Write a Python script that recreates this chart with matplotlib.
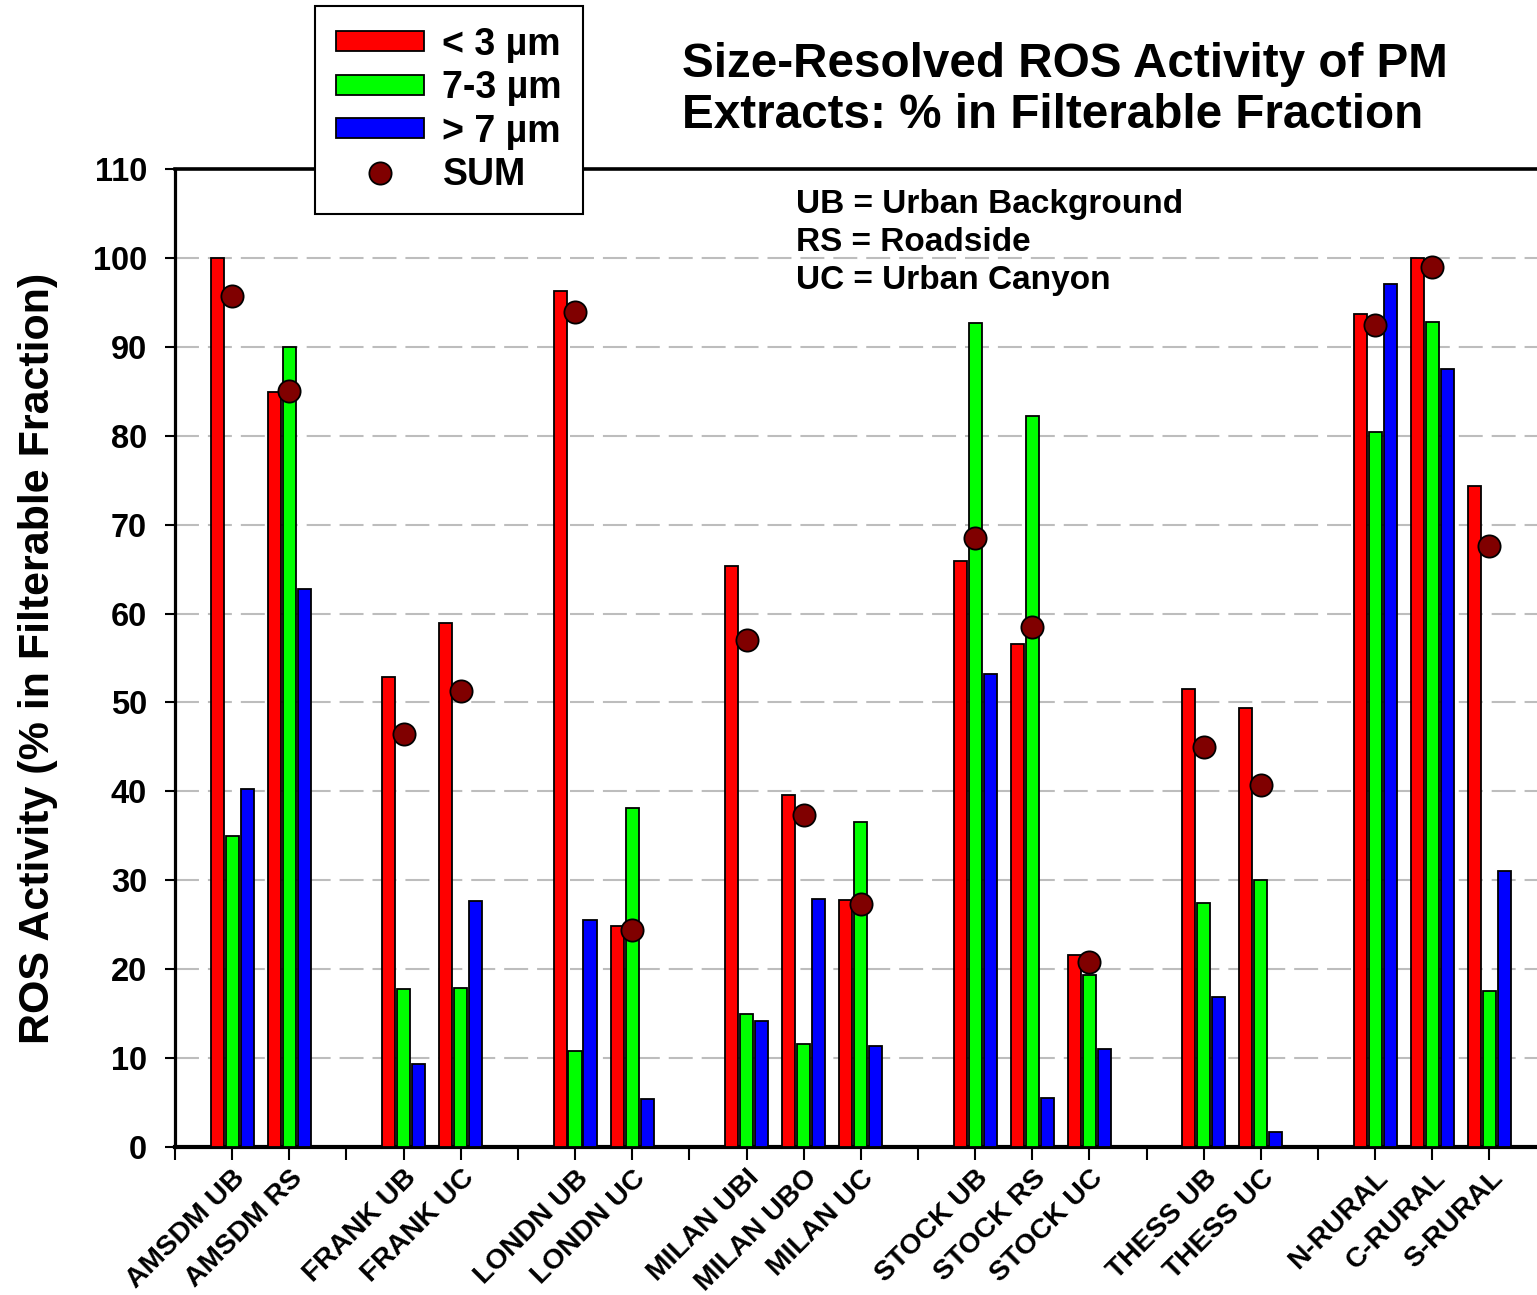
import matplotlib
matplotlib.use('Agg')
import matplotlib.pyplot as plt
from matplotlib.patches import Patch
from matplotlib.lines import Line2D
import numpy as np

plt.rcParams['font.family'] = ['Liberation Sans', 'DejaVu Sans']
plt.rcParams['font.weight'] = 'bold'

# ---- data ----
categories = ['AMSDM UB', 'AMSDM RS', 'FRANK UB', 'FRANK UC', 'LONDN UB', 'LONDN UC',
              'MILAN UBI', 'MILAN UBO', 'MILAN UC', 'STOCK UB', 'STOCK RS', 'STOCK UC',
              'THESS UB', 'THESS UC', 'N-RURAL', 'C-RURAL', 'S-RURAL']
group_sizes = [2, 2, 2, 3, 3, 2, 3]
fine = [100, 84.9, 52.9, 58.9, 96.3, 24.9, 65.4, 39.6, 27.8, 65.9, 56.6, 21.6, 51.5, 49.4, 93.7, 100, 74.4]
mid = [35.0, 90.0, 17.8, 17.9, 10.8, 38.1, 15.0, 11.6, 36.6, 92.7, 82.2, 19.3, 27.4, 30.0, 80.4, 92.8, 17.5]
coarse = [40.3, 62.8, 9.3, 27.7, 25.5, 5.4, 14.2, 27.9, 11.4, 53.2, 5.5, 11.0, 16.9, 1.7, 97.1, 87.5, 31.0]
total = [95.7, 85.0, 46.5, 51.3, 93.9, 24.4, 57.0, 37.3, 27.3, 68.5, 58.5, 20.8, 45.0, 40.7, 92.5, 99.0, 67.6]
series_labels = ['< 3 µm', '7-3 µm', '> 7 µm', 'SUM']
y_ticks = [0, 10, 20, 30, 40, 50, 60, 70, 80, 90, 100, 110]

# positions: one empty slot between groups
positions = []
p = 0
for g in group_sizes:
    for _ in range(g):
        p += 1
        positions.append(p)
    p += 1
positions = np.array(positions, dtype=float)

W, H = 1537, 1295
fig = plt.figure(figsize=(W / 100, H / 100), dpi=100)
ax = fig.add_axes([175 / W, 1 - 1147 / H, 1371.6 / W, (1147 - 169) / H])

bw = 0.23
off = 0.262
ax.bar(positions - off, fine, width=bw, color='#ff0000', edgecolor='black', linewidth=1.3, zorder=3)
ax.bar(positions, mid, width=bw, color='#00ff00', edgecolor='black', linewidth=1.3, zorder=3)
ax.bar(positions + off, coarse, width=bw, color='#0000ff', edgecolor='black', linewidth=1.3, zorder=3)
ax.plot(positions, total, linestyle='none', marker='o', markersize=16,
        markerfacecolor='#800000', markeredgecolor='black', markeredgewidth=1.3, zorder=5)

ax.set_xlim(0, 24)
ax.set_ylim(0, 110)
ax.set_yticks(y_ticks)
ax.set_yticklabels([str(v) for v in y_ticks], fontsize=23.5, fontweight='bold')
for v in y_ticks[1:-1]:
    ax.axhline(v, color='#bdbdbd', linewidth=1.5, dashes=(11.5, 4.3), zorder=1)

all_ticks = np.arange(0, 24)
ax.set_xticks(all_ticks)
labels = [''] * len(all_ticks)
for pos, cat in zip(positions, categories):
    labels[int(pos)] = cat
ax.set_xticklabels(labels, rotation=45, ha='right', rotation_mode='anchor',
                   fontsize=20.3, fontweight='bold')

ax.tick_params(axis='y', direction='out', length=7, width=1.5, pad=13)
ax.tick_params(axis='x', direction='out', length=9, width=1.5, pad=4)

ax.spines['right'].set_visible(False)
ax.spines['left'].set_linewidth(2.3)
ax.spines['bottom'].set_linewidth(3)
ax.spines['top'].set_linewidth(2.6)

ax.set_ylabel('ROS Activity (% in Filterable Fraction)', fontsize=31, fontweight='bold', labelpad=25)

fig.text(682 / W, 1 - 77 / H, 'Size-Resolved ROS Activity of PM', fontsize=34.3, fontweight='bold',
         ha='left', va='baseline')
fig.text(682 / W, 1 - 128 / H, 'Extracts: % in Filterable Fraction', fontsize=34.3, fontweight='bold',
         ha='left', va='baseline')

for i, line in enumerate(['UB = Urban Background', 'RS = Roadside', 'UC = Urban Canyon']):
    fig.text(796 / W, 1 - (213 + 38 * i) / H, line, fontsize=24, fontweight='bold',
             ha='left', va='baseline')

handles = [Patch(facecolor='#ff0000', edgecolor='black', linewidth=1.3),
           Patch(facecolor='#00ff00', edgecolor='black', linewidth=1.3),
           Patch(facecolor='#0000ff', edgecolor='black', linewidth=1.3),
           Line2D([], [], linestyle='none', marker='o', markersize=16,
                  markerfacecolor='#800000', markeredgecolor='black', markeredgewidth=1.3)]
leg = fig.legend(handles, series_labels, loc='upper left',
                 bbox_to_anchor=(315 / W, 1 - 6 / H), frameon=True, fancybox=False,
                 edgecolor='black', framealpha=1, prop={'size': 27, 'weight': 'bold'},
                 handlelength=2.35, handleheight=0.45, handletextpad=0.5, labelspacing=0.2,
                 borderpad=0.55, borderaxespad=0)
leg.get_frame().set_linewidth(1.5)

fig.savefig('out.png', dpi=100)
